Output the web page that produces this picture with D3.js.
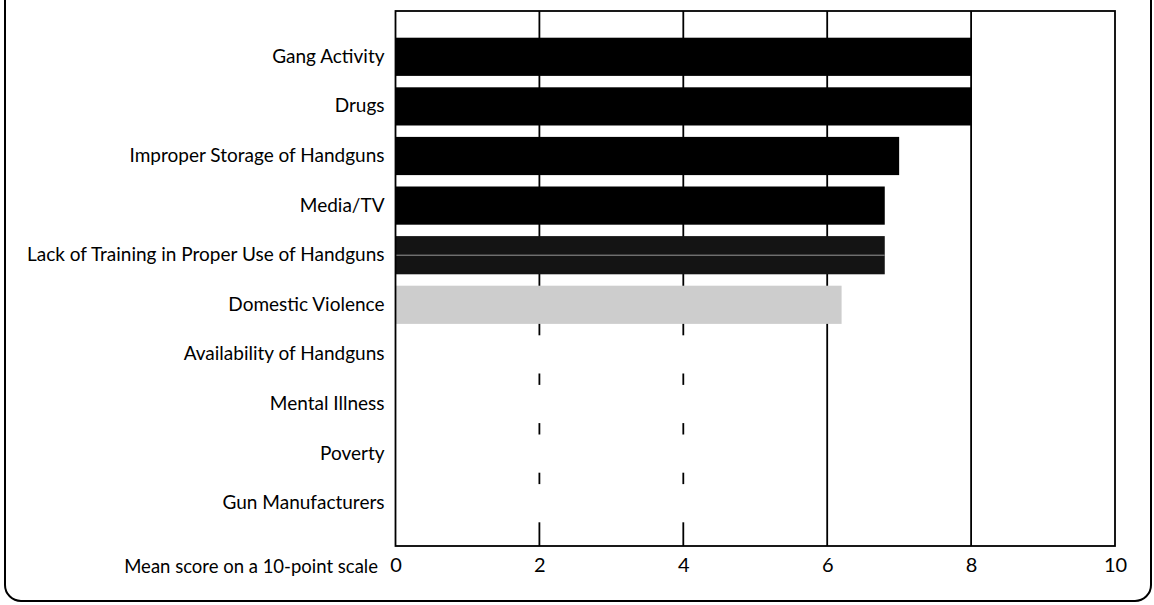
<!DOCTYPE html>
<html><head><meta charset="utf-8">
<script src="https://cdn.jsdelivr.net/npm/d3@7"></script>
<style>
html,body{margin:0;padding:0;background:#fff;}
svg{display:block;}
text{font-family:Lato,"Open Sans",sans-serif;fill:#000;}
</style></head>
<body>
<svg id="chart" width="1154" height="605"></svg>
<script>
const categories = ["Gang Activity","Drugs","Improper Storage of Handguns","Media/TV",
  "Lack of Training in Proper Use of Handguns","Domestic Violence","Availability of Handguns",
  "Mental Illness","Poverty","Gun Manufacturers"];
const values = [8.0, 8.0, 7.0, 6.8, 6.8, 6.2, 5.8, 5.6, 5.4, 5.0];
const barColors = ["#000","#000","#000","#000","#141414","#cdcdcd","#fff","#fff","#fff","#fff"];
const tickValues = [0,2,4,6,8,10];
const axisTitle = "Mean score on a 10-point scale";

(function(){
const svg = d3.select("#chart");
// outer rounded frame
svg.append("rect").attr("x",5).attr("y",-30).attr("width",1146).attr("height",631)
  .attr("rx",16).attr("fill","none").attr("stroke","#000").attr("stroke-width",2);

const pL=395.5, pR=1115, pT=11, pB=546;
const x = d3.scaleLinear().domain([0,10]).range([pL,pR]);
const y = d3.scaleBand().domain(categories).range([32,528]).paddingInner(0.23).paddingOuter(0.115);

// gridlines
svg.append("g").selectAll("line").data(tickValues.filter(v=>v>0&&v<10)).join("line")
  .attr("x1",d=>x(d)).attr("x2",d=>x(d)).attr("y1",pT).attr("y2",pB)
  .attr("stroke","#000").attr("stroke-width",1.8);

// bars
svg.append("g").selectAll("rect").data(categories).join("rect")
  .attr("x",x(0)).attr("y",d=>y(d)).attr("height",y.bandwidth())
  .attr("width",(d,i)=>x(values[i])-x(0)).attr("fill",(d,i)=>barColors[i]);

// thin light line inside the dark textured bar
const iL = 4;
svg.append("line").attr("x1",x(0)).attr("x2",x(values[iL])).attr("y1",y(categories[iL])+y.bandwidth()/2)
  .attr("y2",y(categories[iL])+y.bandwidth()/2).attr("stroke","#999").attr("stroke-width",1);

// frame
svg.append("rect").attr("x",pL).attr("y",pT).attr("width",pR-pL).attr("height",pB-pT)
  .attr("fill","none").attr("stroke","#000").attr("stroke-width",1.8);

// category labels
const yAxis = d3.axisLeft(y).tickSize(0).tickPadding(11);
const gy = svg.append("g").attr("transform",`translate(${pL},0)`).call(yAxis);
gy.select(".domain").remove();
gy.selectAll("text").style("font-family","Lato,sans-serif").style("font-size","19px").attr("fill","#000");

// x tick labels
const xAxis = d3.axisBottom(x).tickValues(tickValues).tickSize(0).tickPadding(12).tickFormat(d3.format("d"));
const gx = svg.append("g").attr("transform",`translate(0,${pB})`).call(xAxis);
gx.select(".domain").remove();
gx.selectAll("text").style("font-family","Lato,sans-serif").style("font-size","20px").attr("fill","#000");

svg.append("text").attr("x",378).attr("y",573).attr("text-anchor","end")
  .style("font-size","18.5px").text(axisTitle);
})();
</script>
</body></html>
